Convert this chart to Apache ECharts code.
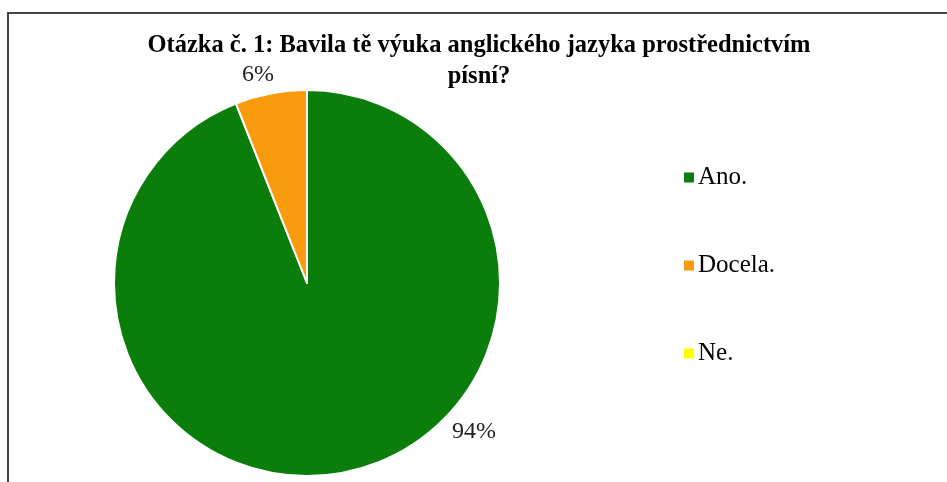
<!DOCTYPE html>
<html>
<head>
<meta charset="utf-8">
<script src="https://cdn.jsdelivr.net/npm/echarts@6/dist/echarts.min.js"></script>
<style>
  html, body { margin: 0; padding: 0; background: #fff; }
  #chart { width: 947px; height: 482px; }
</style>
</head>
<body>
<div id="chart"></div>
<script>
// answers and their share (%)
const answers = ['Ano.', 'Docela.', 'Ne.']
const shares = [94, 6, 0]
const colors = ['#0a7d0a', '#f99b0c', '#ffff00']
const titleText = 'Otázka č. 1: Bavila tě výuka anglického jazyka prostřednictvím\npísní?'

const chartDOM = document.getElementById('chart')
const myChart = echarts.init(chartDOM)

// label spots picked to mimic the original "best fit"
const labelSpots = [[474, 432], [258, 75]]

const option = {
  animation: false,
  title: {
    text: titleText,
    left: 474,
    top: 25,
    textAlign: 'center',
    textStyle: {
      fontFamily: 'Liberation Serif',
      fontWeight: 'bold',
      fontSize: 24.5,
      lineHeight: 31,
      color: '#000'
    }
  },
  legend: {
    orient: 'vertical',
    left: 677,
    top: 160,
    itemWidth: 12,
    itemHeight: 12,
    itemGap: 63,
    icon: 'rect',
    data: answers,
    textStyle: {
      fontFamily: 'Liberation Serif',
      fontSize: 25,
      color: '#000',
      padding: [0, 0, 0, -2]
    }
  },
  graphic: [
    {
      type: 'rect',
      shape: { x: 8, y: 13, width: 960, height: 500 },
      style: { fill: 'none', stroke: '#444', lineWidth: 2 },
      silent: true
    }
  ],
  series: [
    {
      type: 'pie',
      center: [307, 283],
      radius: 193,
      startAngle: 90,
      clockwise: true,
      minShowLabelAngle: 1,
      itemStyle: { borderColor: '#fff', borderWidth: 2 },
      label: {
        show: true,
        position: 'outside',
        formatter: '{c}%',
        fontFamily: 'Liberation Serif',
        fontSize: 24,
        color: '#222'
      },
      labelLine: { show: false },
      labelLayout: function (params) {
        const spot = labelSpots[params.dataIndex]
        if (!spot) return {}
        return {
          x: spot[0],
          y: spot[1],
          align: 'center',
          verticalAlign: 'middle'
        }
      },
      data: answers.map((name, i) => ({
        name: name,
        value: shares[i],
        itemStyle: { color: colors[i] }
      }))
    }
  ]
}

option && myChart.setOption(option)
</script>
</body>
</html>
